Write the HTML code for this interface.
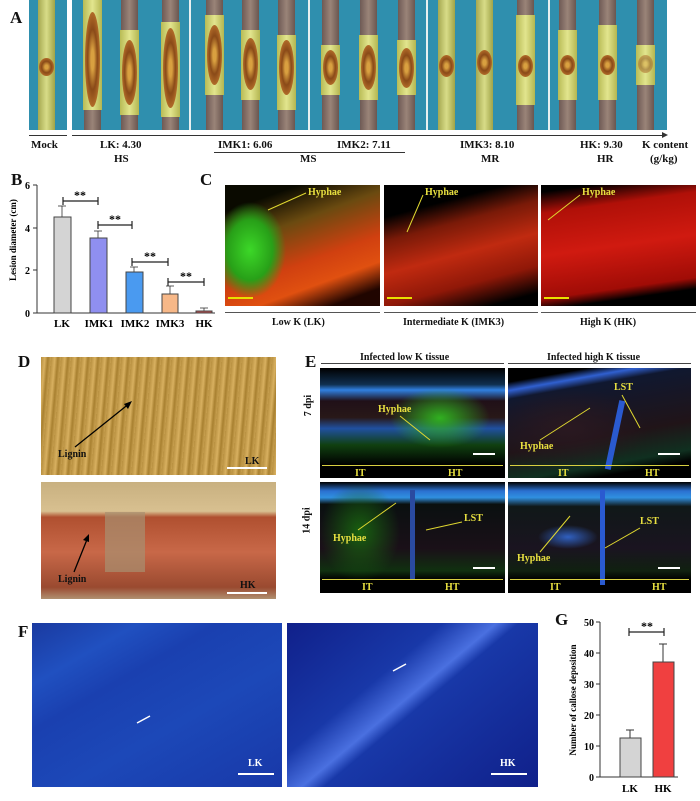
<!DOCTYPE html>
<html><head><meta charset="utf-8"><style>
body{margin:0;background:#fff;}
#c{position:relative;width:700px;height:801px;overflow:hidden;background:#fff;font-family:"Liberation Serif",serif;font-weight:bold;color:#111;}
.a{position:absolute;}
.t{position:absolute;white-space:nowrap;font-size:11px;}
.L{position:absolute;font-size:17px;font-weight:bold;}
.stick{position:absolute;top:0;height:130px;width:17px;background:linear-gradient(90deg,#6e5a55,#9a8478 50%,#6a5650);}
.yel{position:absolute;left:-1px;width:19px;background:linear-gradient(90deg,#b8bb55,#e2e58e 50%,#b4b650);}
.les{position:absolute;left:1px;width:15px;border-radius:50%;background:radial-gradient(#d9a040 15%,#8a4a18 45%,#b06a28 70%,#6a3a10);}
.yl{color:#e8e040;font-size:10px;}
</style></head><body><div id="c">

<!-- Panel A -->
<div class="L" style="left:10px;top:8px">A</div>
<div class="a" style="left:29px;top:0;width:638px;height:130px;background:#2f8fae"></div>
<div class="a" style="left:67px;top:0;width:5px;height:130px;background:#fff"></div>
<div class="a" style="left:189px;top:0;width:2px;height:130px;background:#e8f0f0"></div>
<div class="a" style="left:308px;top:0;width:2px;height:130px;background:#e8f0f0"></div>
<div class="a" style="left:426px;top:0;width:2px;height:130px;background:#e8f0f0"></div>
<div class="a" style="left:548px;top:0;width:2px;height:130px;background:#e8f0f0"></div>

<div class="stick" style="left:38px;background:linear-gradient(90deg,#a5a850,#d8dc88 50%,#a0a448)"><div class="les" style="top:58px;height:18px"></div></div>
<div class="stick" style="left:84px"><div class="yel" style="top:0;height:110px"></div><div class="les" style="top:12px;height:95px"></div></div>
<div class="stick" style="left:121px"><div class="yel" style="top:30px;height:85px"></div><div class="les" style="top:40px;height:65px"></div></div>
<div class="stick" style="left:162px"><div class="yel" style="top:22px;height:95px"></div><div class="les" style="top:28px;height:80px"></div></div>
<div class="stick" style="left:206px"><div class="yel" style="top:15px;height:80px"></div><div class="les" style="top:25px;height:60px"></div></div>
<div class="stick" style="left:242px"><div class="yel" style="top:30px;height:70px"></div><div class="les" style="top:38px;height:52px"></div></div>
<div class="stick" style="left:278px"><div class="yel" style="top:35px;height:75px"></div><div class="les" style="top:40px;height:55px"></div></div>
<div class="stick" style="left:322px"><div class="yel" style="top:45px;height:50px"></div><div class="les" style="top:50px;height:35px"></div></div>
<div class="stick" style="left:360px"><div class="yel" style="top:35px;height:65px"></div><div class="les" style="top:45px;height:45px"></div></div>
<div class="stick" style="left:398px"><div class="yel" style="top:40px;height:55px"></div><div class="les" style="top:48px;height:40px"></div></div>
<div class="stick" style="left:438px;background:linear-gradient(90deg,#a5a850,#d8dc88 50%,#a0a448)"><div class="les" style="top:55px;height:22px"></div></div>
<div class="stick" style="left:476px;background:linear-gradient(90deg,#a5a850,#d8dc88 50%,#a0a448)"><div class="les" style="top:50px;height:25px"></div></div>
<div class="stick" style="left:517px"><div class="yel" style="top:15px;height:90px"></div><div class="les" style="top:55px;height:22px"></div></div>
<div class="stick" style="left:559px"><div class="yel" style="top:30px;height:70px"></div><div class="les" style="top:55px;height:20px"></div></div>
<div class="stick" style="left:599px"><div class="yel" style="top:25px;height:75px"></div><div class="les" style="top:55px;height:20px"></div></div>
<div class="stick" style="left:637px"><div class="yel" style="top:45px;height:40px"></div><div class="les" style="top:55px;height:18px;opacity:.5"></div></div>

<div class="a" style="left:29px;top:135px;width:38px;height:1px;background:#333"></div>
<div class="a" style="left:72px;top:135px;width:594px;height:1px;background:#333"></div>
<div class="a" style="left:662px;top:132px;width:0;height:0;border-left:6px solid #333;border-top:3px solid transparent;border-bottom:3px solid transparent"></div>
<div class="t" style="left:31px;top:139px">Mock</div>
<div class="t" style="left:100px;top:139px">LK: 4.30</div>
<div class="t" style="left:114px;top:153px">HS</div>
<div class="t" style="left:218px;top:139px">IMK1: 6.06</div>
<div class="t" style="left:337px;top:139px">IMK2: 7.11</div>
<div class="a" style="left:214px;top:152px;width:191px;height:1px;background:#333"></div>
<div class="t" style="left:300px;top:153px">MS</div>
<div class="t" style="left:460px;top:139px">IMK3: 8.10</div>
<div class="t" style="left:481px;top:153px">MR</div>
<div class="t" style="left:580px;top:139px">HK: 9.30</div>
<div class="t" style="left:597px;top:153px">HR</div>
<div class="t" style="left:642px;top:139px">K content</div>
<div class="t" style="left:650px;top:153px">(g/kg)</div>

<!-- Panel B -->
<div class="L" style="left:11px;top:170px">B</div>
<svg class="a" style="left:0;top:175px" width="220" height="160" font-family="Liberation Serif" font-weight="bold" font-size="10">
<text x="16" y="65" transform="rotate(-90 16 65)" text-anchor="middle" font-size="9">Lesion diameter (cm)</text>
<line x1="37" y1="10" x2="37" y2="138" stroke="#333"/>
<line x1="37" y1="138" x2="215" y2="138" stroke="#333"/>
<g stroke="#333"><line x1="33" y1="10" x2="37" y2="10"/><line x1="33" y1="53" x2="37" y2="53"/><line x1="33" y1="95" x2="37" y2="95"/><line x1="33" y1="138" x2="37" y2="138"/></g>
<text x="30" y="14" text-anchor="end">6</text><text x="30" y="57" text-anchor="end">4</text><text x="30" y="99" text-anchor="end">2</text><text x="30" y="142" text-anchor="end">0</text>
<g stroke="#333" stroke-width="0.8">
<line x1="62" y1="31" x2="62" y2="42"/><line x1="58" y1="31" x2="66" y2="31"/>
<line x1="98" y1="56" x2="98" y2="63"/><line x1="94" y1="56" x2="102" y2="56"/>
<line x1="134" y1="92" x2="134" y2="97"/><line x1="130" y1="92" x2="138" y2="92"/>
<line x1="170" y1="111" x2="170" y2="119"/><line x1="166" y1="111" x2="174" y2="111"/>
<line x1="204" y1="133" x2="204" y2="136"/><line x1="200" y1="133" x2="208" y2="133"/>
</g>
<rect x="54" y="42" width="17" height="96" fill="#d4d4d4" stroke="#444"/>
<rect x="90" y="63" width="17" height="75" fill="#8f8ff0" stroke="#444"/>
<rect x="126" y="97" width="17" height="41" fill="#4a9af0" stroke="#444"/>
<rect x="162" y="119" width="16" height="19" fill="#f7b888" stroke="#444"/>
<rect x="196" y="136" width="16" height="2" fill="#c05050" stroke="#444"/>
<g stroke="#222" stroke-width="1.2">
<line x1="63" y1="26" x2="98" y2="26"/><line x1="63" y1="22" x2="63" y2="30"/><line x1="98" y1="22" x2="98" y2="30"/>
<line x1="98" y1="50" x2="132" y2="50"/><line x1="98" y1="46" x2="98" y2="54"/><line x1="132" y1="46" x2="132" y2="54"/>
<line x1="132" y1="87" x2="168" y2="87"/><line x1="132" y1="83" x2="132" y2="91"/><line x1="168" y1="83" x2="168" y2="91"/>
<line x1="168" y1="107" x2="204" y2="107"/><line x1="168" y1="103" x2="168" y2="111"/><line x1="204" y1="103" x2="204" y2="111"/>
</g>
<g font-size="12"><text x="80" y="24" text-anchor="middle">**</text><text x="115" y="48" text-anchor="middle">**</text><text x="150" y="85" text-anchor="middle">**</text><text x="186" y="105" text-anchor="middle">**</text></g>
<g font-size="11" text-anchor="middle"><text x="62" y="152">LK</text><text x="99" y="152">IMK1</text><text x="135" y="152">IMK2</text><text x="170" y="152">IMK3</text><text x="204" y="152">HK</text></g>
</svg>

<!-- Panel C -->
<div class="L" style="left:200px;top:170px">C</div>
<div class="a" style="left:225px;top:185px;width:155px;height:121px;background:radial-gradient(ellipse 45px 60px at 25px 65px,#3cd828,#28a018 50%,transparent 80%),linear-gradient(160deg,#0a0a00 15%,#6a4a10 35%,#d04010 60%,#e05010 75%,#200500 90%)"></div>
<div class="a" style="left:384px;top:185px;width:154px;height:121px;background:linear-gradient(165deg,#000 20%,#7a1a08 35%,#c02a10 55%,#901808 75%,#000 92%)"></div>
<div class="a" style="left:541px;top:185px;width:155px;height:121px;background:linear-gradient(172deg,#000 5%,#b01008 20%,#d01a10 50%,#a00c06 80%,#000 88%)"></div>
<div class="a" style="left:228px;top:297px;width:25px;height:2px;background:#e8e000"></div>
<div class="a" style="left:387px;top:297px;width:25px;height:2px;background:#e8e000"></div>
<div class="a" style="left:544px;top:297px;width:25px;height:2px;background:#e8e000"></div>
<div class="t yl" style="left:308px;top:187px">Hyphae</div>
<div class="t yl" style="left:425px;top:187px">Hyphae</div>
<div class="t yl" style="left:582px;top:187px">Hyphae</div>
<svg class="a" style="left:0;top:0" width="700" height="330"><g stroke="#e0d830" stroke-width="1">
<line x1="306" y1="193" x2="268" y2="210"/><line x1="423" y1="195" x2="407" y2="232"/><line x1="580" y1="195" x2="548" y2="220"/></g></svg>
<div class="a" style="left:225px;top:312px;width:155px;height:1px;background:#555"></div>
<div class="a" style="left:384px;top:312px;width:154px;height:1px;background:#555"></div>
<div class="a" style="left:541px;top:312px;width:155px;height:1px;background:#555"></div>
<div class="t" style="left:272px;top:317px;font-size:10px">Low K (LK)</div>
<div class="t" style="left:403px;top:317px;font-size:10px">Intermediate K (IMK3)</div>
<div class="t" style="left:580px;top:317px;font-size:10px">High K (HK)</div>

<!-- Panel D -->
<div class="L" style="left:18px;top:352px">D</div>
<div class="a" style="left:41px;top:357px;width:235px;height:118px;background:repeating-linear-gradient(95deg,#b89040 0,#d8b060 4px,#a88030 7px,#c8a050 10px)"></div>
<div class="a" style="left:41px;top:482px;width:235px;height:117px;background:linear-gradient(180deg,#c8b080 0,#d8c090 25%,#b05030 30%,#c86848 60%,#9a4a30 90%,#b09070 100%)"></div>
<div class="a" style="left:105px;top:512px;width:40px;height:60px;background:#a89070;opacity:.7"></div>
<svg class="a" style="left:0;top:0" width="700" height="801"><g stroke="#000" stroke-width="1.3"><line x1="75" y1="447" x2="130" y2="403"/><line x1="74" y1="572" x2="88" y2="537"/></g>
<polygon points="132,401 124,404 128,409" fill="#000"/><polygon points="89,534 83,540 89,542" fill="#000"/></svg>
<div class="t" style="left:58px;top:449px;font-size:10px">Lignin</div>
<div class="t" style="left:58px;top:574px;font-size:10px">Lignin</div>
<div class="t" style="left:245px;top:456px;font-size:10px">LK</div>
<div class="a" style="left:227px;top:467px;width:40px;height:2px;background:#fff"></div>
<div class="t" style="left:240px;top:580px;font-size:10px">HK</div>
<div class="a" style="left:227px;top:592px;width:40px;height:2px;background:#fff"></div>

<!-- Panel E -->
<div class="L" style="left:305px;top:352px">E</div>
<div class="t" style="left:360px;top:352px;font-size:10px">Infected low K tissue</div>
<div class="t" style="left:547px;top:352px;font-size:10px">Infected high K tissue</div>
<div class="a" style="left:321px;top:363px;width:183px;height:1px;background:#444"></div>
<div class="a" style="left:508px;top:363px;width:183px;height:1px;background:#444"></div>
<div class="t" style="left:298px;top:400px;font-size:10px;transform:rotate(-90deg)">7 dpi</div>
<div class="t" style="left:294px;top:515px;font-size:10px;transform:rotate(-90deg)">14 dpi</div>
<div class="a" style="left:320px;top:368px;width:185px;height:110px;background:radial-gradient(ellipse 50px 30px at 120px 50px,#30b020,transparent),linear-gradient(180deg,#000 0,#103050 15%,#3080e0 20%,#201018 30%,#281818 45%,#2050a0 55%,#104010 70%,#000 88%)"></div>
<div class="a" style="left:508px;top:368px;width:183px;height:110px;background:radial-gradient(ellipse 80px 40px at 60px 60px,#2a1820,transparent),linear-gradient(170deg,#000 0,#000 10%,#3060d0 16%,#101830 22%,#201418 60%,#103020 80%,#000 88%)"></div>
<div class="a" style="left:320px;top:482px;width:185px;height:111px;background:radial-gradient(ellipse 40px 50px at 40px 50px,#186010,transparent),linear-gradient(180deg,#000 0,#2a70d0 8%,#3090e0 14%,#0a1010 20%,#1a1018 60%,#103010 80%,#000 88%)"></div>
<div class="a" style="left:508px;top:482px;width:183px;height:111px;background:radial-gradient(ellipse 30px 12px at 60px 55px,#3060c0,transparent),linear-gradient(180deg,#000 0,#2a70d0 8%,#3090e0 14%,#101818 22%,#1a1420 60%,#102010 80%,#000 88%)"></div>
<div class="a" style="left:410px;top:490px;width:5px;height:90px;background:#2a4aa0"></div>
<div class="a" style="left:600px;top:490px;width:5px;height:95px;background:#2a5ad0"></div>
<div class="a" style="left:612px;top:400px;width:6px;height:70px;background:#2a5ad0;transform:rotate(12deg)"></div>
<div class="a" style="left:322px;top:465px;width:181px;height:1px;background:#d8d040"></div>
<div class="a" style="left:510px;top:465px;width:179px;height:1px;background:#d8d040"></div>
<div class="a" style="left:322px;top:579px;width:181px;height:1px;background:#d8d040"></div>
<div class="a" style="left:510px;top:579px;width:179px;height:1px;background:#d8d040"></div>
<div class="t yl" style="left:355px;top:468px">IT</div><div class="t yl" style="left:448px;top:468px">HT</div>
<div class="t yl" style="left:558px;top:468px">IT</div><div class="t yl" style="left:645px;top:468px">HT</div>
<div class="t yl" style="left:362px;top:582px">IT</div><div class="t yl" style="left:445px;top:582px">HT</div>
<div class="t yl" style="left:550px;top:582px">IT</div><div class="t yl" style="left:652px;top:582px">HT</div>
<div class="t yl" style="left:378px;top:404px">Hyphae</div>
<div class="t yl" style="left:520px;top:441px">Hyphae</div>
<div class="t yl" style="left:614px;top:382px">LST</div>
<div class="t yl" style="left:333px;top:533px">Hyphae</div>
<div class="t yl" style="left:464px;top:513px">LST</div>
<div class="t yl" style="left:517px;top:553px">Hyphae</div>
<div class="t yl" style="left:640px;top:516px">LST</div>
<svg class="a" style="left:0;top:0" width="700" height="801"><g stroke="#e0d830" stroke-width="1">
<line x1="400" y1="416" x2="430" y2="440"/><line x1="540" y1="440" x2="590" y2="408"/><line x1="622" y1="395" x2="640" y2="428"/>
<line x1="358" y1="530" x2="396" y2="503"/><line x1="462" y1="522" x2="426" y2="530"/>
<line x1="540" y1="552" x2="570" y2="516"/><line x1="640" y1="528" x2="605" y2="548"/></g>
<g fill="#fff"><rect x="473" y="453" width="22" height="2"/><rect x="658" y="453" width="22" height="2"/><rect x="473" y="567" width="22" height="2"/><rect x="658" y="567" width="22" height="2"/></g></svg>

<!-- Panel F -->
<div class="L" style="left:18px;top:622px">F</div>
<div class="a" style="left:32px;top:623px;width:250px;height:164px;background:linear-gradient(150deg,#1a3aa0 0,#2050c0 20%,#1a40b0 35%,#1c48b8 60%,#1838a8 100%)"></div>
<div class="a" style="left:287px;top:623px;width:251px;height:164px;background:linear-gradient(140deg,#10208a 0,#1838a8 35%,#4a70e0 47%,#1838a8 52%,#10208a 100%)"></div>
<svg class="a" style="left:0;top:0" width="700" height="801"><g stroke="#fff" stroke-width="1.5"><line x1="137" y1="723" x2="150" y2="716"/><line x1="393" y1="671" x2="406" y2="664"/></g>
<g fill="#fff"><rect x="238" y="773" width="36" height="2"/><rect x="491" y="773" width="36" height="2"/></g></svg>
<div class="t" style="left:248px;top:758px;font-size:10px;color:#fff">LK</div>
<div class="t" style="left:500px;top:758px;font-size:10px;color:#fff">HK</div>

<!-- Panel G -->
<div class="L" style="left:555px;top:610px">G</div>
<svg class="a" style="left:560px;top:610px" width="140" height="191" font-family="Liberation Serif" font-weight="bold" font-size="10">
<text x="16" y="90" transform="rotate(-90 16 90)" text-anchor="middle" font-size="9">Number of callose deposition</text>
<line x1="40" y1="12" x2="40" y2="167" stroke="#333"/>
<line x1="40" y1="167" x2="118" y2="167" stroke="#333"/>
<g stroke="#333"><line x1="36" y1="12" x2="40" y2="12"/><line x1="36" y1="43" x2="40" y2="43"/><line x1="36" y1="74" x2="40" y2="74"/><line x1="36" y1="105" x2="40" y2="105"/><line x1="36" y1="136" x2="40" y2="136"/><line x1="36" y1="167" x2="40" y2="167"/></g>
<g text-anchor="end"><text x="34" y="16">50</text><text x="34" y="47">40</text><text x="34" y="78">30</text><text x="34" y="109">20</text><text x="34" y="140">10</text><text x="34" y="171">0</text></g>
<g stroke="#333"><line x1="70" y1="120" x2="70" y2="128"/><line x1="66" y1="120" x2="74" y2="120"/><line x1="103" y1="34" x2="103" y2="52"/><line x1="99" y1="34" x2="107" y2="34"/></g>
<rect x="60" y="128" width="21" height="39" fill="#d4d4d4" stroke="#444"/>
<rect x="93" y="52" width="21" height="115" fill="#f04040" stroke="#444"/>
<g stroke="#222" stroke-width="1.2"><line x1="69" y1="22" x2="104" y2="22"/><line x1="69" y1="18" x2="69" y2="26"/><line x1="104" y1="18" x2="104" y2="26"/></g>
<text x="87" y="20" text-anchor="middle" font-size="12">**</text>
<text x="70" y="182" text-anchor="middle" font-size="11">LK</text><text x="103" y="182" text-anchor="middle" font-size="11">HK</text>
</svg>

</div></body></html>
